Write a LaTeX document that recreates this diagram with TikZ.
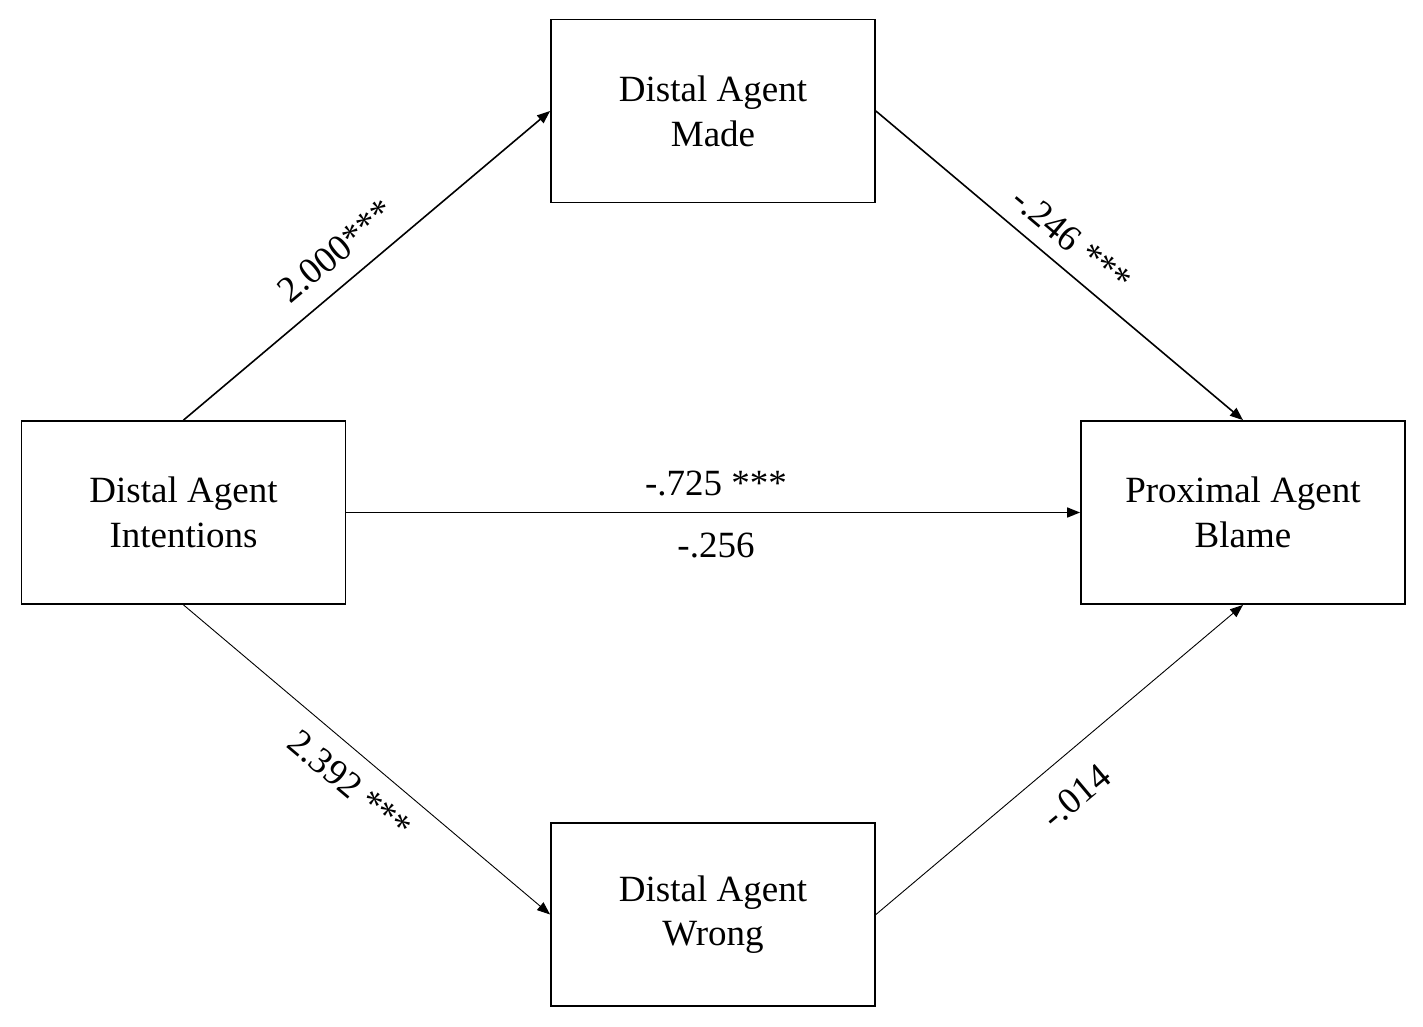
\documentclass[tikz,border=0pt]{standalone}
\usepackage{fontspec}
\setmainfont{Liberation Serif}
\usetikzlibrary{arrows.meta}
\begin{document}
\begin{tikzpicture}[x=1pt,y=-1pt,
  box/.style={draw,line width=1.8pt,minimum width=324pt,minimum height=183pt,inner sep=0pt,align=center,font=\fontsize{37}{45}\selectfont},
  thick arrow/.style={line width=1.6pt,-{Triangle[length=13pt,width=10pt]}},
  thin arrow/.style={line width=0.9pt,-{Triangle[length=13pt,width=10pt]}},
  lab/.style={font=\fontsize{37}{45}\selectfont,inner sep=0pt}]
\useasboundingbox (0,0) rectangle (1423,1026);
\node[box] (made) at (713,111) {Distal Agent\\Made};
\node[box] (int) at (183.5,512.5) {Distal Agent\\Intentions};
\node[box] (blame) at (1243,512.5) {Proximal Agent\\Blame};
\node[box] (wrong) at (713,914.5) {\raisebox{-5pt}{\begin{tabular}{@{}c@{}}Distal Agent\\[-0.5pt]Wrong\end{tabular}}};
\draw[thick arrow] (int.north) -- (made.west);
\draw[thick arrow] (made.east) -- (blame.north);
\draw[thick arrow] (int.east) -- (blame.west);
\draw[thin arrow] (int.south) -- (wrong.west);
\draw[thin arrow] (wrong.east) -- (blame.south);
\node[lab,rotate=40] (l1) at (336,251) {2.000***};
\node[lab,rotate=-40] (l2) at (1072,240) {-.246 ***};
\node[lab] (l3) at (716,484) {-.725 ***};
\node[lab] (l4) at (716,546) {-.256};
\node[lab,rotate=-40] (l5) at (350,785) {2.392 ***};
\node[lab,rotate=40] (l6) at (1076,796) {-.014};
\end{tikzpicture}
\end{document}
